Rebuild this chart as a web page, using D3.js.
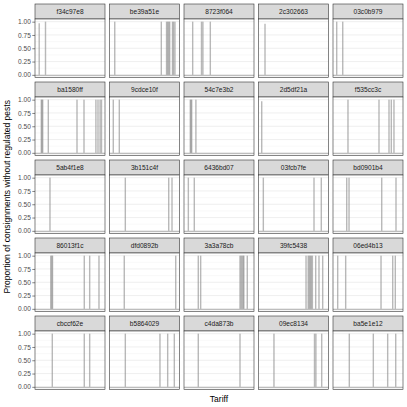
<!DOCTYPE html>
<html><head><meta charset="utf-8">
<script src="https://cdn.jsdelivr.net/npm/d3@7"></script>
<style>body{margin:0;background:#fff}svg{display:block}</style>
</head><body>
<script>
// Data
const panelIds = ["f34c97e8","be39a51e","8723f064","2c302663","03c0b979",
  "ba1580ff","9cdce10f","54c7e3b2","2d5df21a","f535cc3c",
  "5ab4f1e8","3b151c4f","6436bd07","03fcb7fe","bd0901b4",
  "86013f1c","dfd0892b","3a3a78cb","39fc5438","06ed4b13",
  "cbccf62e","b5864029","c4da873b","09ec8134","ba5e1e12"];
// Tariff positions (relative, 0-1 within each panel's range)
const tariffs = [
  [0.06,0.15],
  [0.075,0.74,0.815,0.83,0.845,0.86,0.90,0.915,0.935],
  [0.124,0.25,0.27,0.376],
  [0.093],
  [0.053,0.139],
  [0.09,0.10,0.11,0.19,0.60,0.70,0.87,0.90,0.93,0.95],
  [0.054,0.14],
  [0.09,0.10,0.11,0.17],
  [0.046],
  [0.214,0.657,0.80,0.833,0.871],
  [0.214],
  [0.226,0.846,0.893],
  [0.062,0.147],
  [0.069,0.793,0.897],
  [0.196,0.229,0.696,0.90],
  [0.225,0.24,0.25,0.704,0.781,0.914],
  [0.211,0.946],
  [0.204,0.238,0.80,0.815,0.83,0.845,0.855,0.904],
  [0.679,0.71,0.725,0.74,0.755,0.77,0.817,0.864,0.917],
  [0.067,0.181,0.686,0.853,0.89],
  [0.247,0.704,0.781],
  [0.226,0.721,0.831,0.926],
  [0.204,0.80],
  [0.221,0.80,0.82,0.903],
  [0.233,0.576,0.781,0.896]
];
// Proportion values for each bar
const proportions = [
  [0.97,1],
  [1,1,1,1,1,1,1,1,1],
  [1,1,1,1],
  [0.96],
  [1,1],
  [1,1,1,1,1,1,1,1,1,1],
  [1,1],
  [1,1,1,1],
  [0.97],
  [1,1,1,1,1],
  [1],
  [1,1,1],
  [1,1],
  [1,1,1],
  [1,1,1,1],
  [1,1,1,1,1,1],
  [1,1],
  [1,1,1,1,1,1,1,1],
  [1,1,1,1,1,1,1,1,1],
  [1,1,1,1,1],
  [1,1,1],
  [1,1,1,1],
  [1,1],
  [1,1,1,1],
  [1,1,1,1]
];
const yTicks = [0,0.25,0.5,0.75,1];
const yTickLabels = ["0.00","0.25","0.50","0.75","1.00"];
const yMinor = [0.125,0.375,0.625,0.875];

const W = 407, H = 407;
const svg = d3.select("body").append("svg").attr("width",W).attr("height",H);
const font = "Liberation Sans, Arial, Helvetica, sans-serif";

const gLeft = 35, gRight = 403, gTop = 4, gBottom = 389.5;
const ncol = 5, nrow = 5, gap = 4.5, stripH = 15;
const pw = (gRight - gLeft - gap*(ncol-1))/ncol;
const ph = (gBottom - gTop - gap*(nrow-1))/nrow;
const panelH = ph - stripH;

const x = d3.scaleLinear().domain([0,1]).range([0,pw]);
const y = d3.scaleLinear().domain([-0.05,1.05]).range([panelH,0]);
const barW = 1.4;

panelIds.forEach((id,i)=>{
  const c = i % ncol, r = Math.floor(i/ncol);
  const gx = gLeft + c*(pw+gap), gy = gTop + r*(ph+gap);
  const g = svg.append("g").attr("transform",`translate(${gx},${gy})`);
  g.append("rect").attr("x",0).attr("y",0).attr("width",pw).attr("height",stripH)
    .attr("fill","#d9d9d9").attr("stroke","#333").attr("stroke-width",0.6);
  g.append("text").attr("x",pw/2).attr("y",stripH/2).attr("dy","0.35em")
    .attr("text-anchor","middle").attr("font-family",font).attr("font-size",6.6)
    .attr("fill","#1a1a1a").text(id);
  const p = g.append("g").attr("transform",`translate(0,${stripH})`);
  p.append("rect").attr("width",pw).attr("height",panelH).attr("fill","#fff");
  yMinor.forEach(v=>p.append("line").attr("x1",0).attr("x2",pw).attr("y1",y(v)).attr("y2",y(v))
    .attr("stroke","#f2f2f2").attr("stroke-width",0.5));
  yTicks.forEach(v=>p.append("line").attr("x1",0).attr("x2",pw).attr("y1",y(v)).attr("y2",y(v))
    .attr("stroke","#ebebeb").attr("stroke-width",0.8));
  p.append("rect").attr("x",x(0)).attr("width",x(1)-x(0)).attr("y",y(0)).attr("height",1.3)
    .attr("fill","#bdbdbd");
  const data = tariffs[i].map((t,j)=>({t, v: proportions[i][j]}));
  p.selectAll("rect.bar").data(data).enter().append("rect").attr("class","bar")
    .attr("x",d=>x(d.t)-barW/2).attr("width",barW)
    .attr("y",d=>y(d.v)).attr("height",d=>y(0)-y(d.v))
    .attr("fill","#8c8c8c").attr("fill-opacity",0.62);
  p.append("rect").attr("width",pw).attr("height",panelH).attr("fill","none")
    .attr("stroke","#333").attr("stroke-width",0.6);
  if (c===0){
    const ax = d3.axisLeft(y).tickValues(yTicks).tickFormat((d,k)=>yTickLabels[k]).tickSize(2.7).tickPadding(1.5);
    const a = p.append("g").call(ax);
    a.select(".domain").remove();
    a.selectAll("line").attr("stroke","#333").attr("stroke-width",0.6);
    a.selectAll("text").attr("font-family",font).attr("font-size",6.6).attr("fill","#4d4d4d");
  }
});

svg.append("text").attr("x",(gLeft+gRight)/2).attr("y",402).attr("text-anchor","middle")
  .attr("font-family",font).attr("font-size",8.5).attr("fill","#000").text("Tariff");
svg.append("text").attr("transform",`translate(10,${(gTop+gBottom)/2}) rotate(-90)`)
  .attr("text-anchor","middle").attr("font-family",font).attr("font-size",8.5).attr("fill","#000")
  .text("Proportion of consignments without regulated pests");
</script>
</body></html>
